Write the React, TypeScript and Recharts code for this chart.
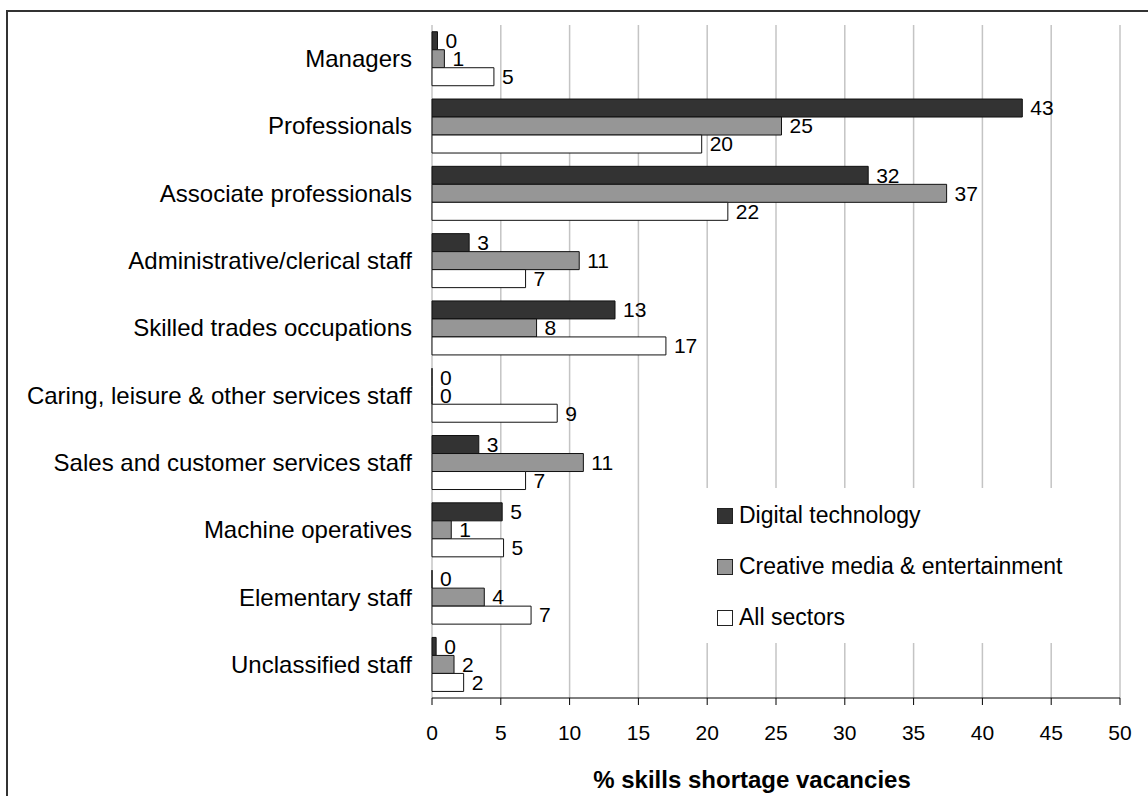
import { Bar, BarChart, CartesianGrid, LabelList, Legend, XAxis, YAxis } from "recharts";

const categories = [
  "Managers",
  "Professionals",
  "Associate professionals",
  "Administrative/clerical staff",
  "Skilled trades occupations",
  "Caring, leisure & other services staff",
  "Sales and customer services staff",
  "Machine operatives",
  "Elementary staff",
  "Unclassified staff",
];

const digitalTech = [0.4, 42.9, 31.7, 2.7, 13.3, 0, 3.4, 5.1, 0, 0.3];
const creativeMedia = [0.9, 25.4, 37.4, 10.7, 7.6, 0, 11.0, 1.4, 3.8, 1.6];
const allSectors = [4.5, 19.6, 21.5, 6.8, 17.0, 9.1, 6.8, 5.2, 7.2, 2.3];

const seriesOrder = ["digital", "creative", "all"];
const xTicks = [0, 5, 10, 15, 20, 25, 30, 35, 40, 45, 50];
const boundaryTicks = [0, 1, 2, 3, 4, 5, 6, 7, 8, 9, 10];

const data = categories.map((name, i) => ({
  name,
  digital: digitalTech[i],
  creative: creativeMedia[i],
  all: allSectors[i],
}));

const FONT = '"Liberation Sans", Arial, sans-serif';

function LegendBox(props: any) {
  const items = [...(props.payload || [])].sort(
    (a: any, b: any) => seriesOrder.indexOf(a.dataKey) - seriesOrder.indexOf(b.dataKey)
  );
  return (
    <div
      style={{
        background: "#fff",
        width: 410,
        height: 155,
        paddingTop: 2,
        boxSizing: "border-box",
        fontFamily: FONT,
        fontSize: 23,
        color: "#000",
      }}
    >
      {items.map((it: any) => (
        <div
          key={it.value}
          style={{ height: 51, display: "flex", alignItems: "center", paddingLeft: 17 }}
        >
          <span
            style={{
              width: 14,
              height: 14,
              background: it.color,
              border: "1px solid #222",
              display: "inline-block",
              marginRight: 6,
            }}
          />
          <span>{it.value}</span>
        </div>
      ))}
    </div>
  );
}

function ValueLabel(props: any) {
  const { x, y, width, height, value } = props;
  if (x == null || y == null) return null;
  return (
    <text
      x={Number(x) + Number(width || 0) + 8}
      y={Number(y) + Number(height || 0) / 2}
      dy="0.35em"
      fontFamily={FONT}
      fontSize={21}
      fill="#000"
    >
      {Math.round(Number(value))}
    </text>
  );
}

export default function App() {
  return (
    <div
      style={{
        position: "absolute",
        left: 0,
        top: 0,
        width: 1148,
        height: 796,
        overflow: "hidden",
        background: "#fff",
      }}
    >
      <div
        style={{
          position: "absolute",
          left: 6,
          top: 10,
          width: 1300,
          height: 900,
          borderLeft: "2px solid #333",
          borderTop: "2px solid #333",
        }}
      />
      <div style={{ position: "absolute", left: 0, top: 0 }}>
        <BarChart
          width={1148}
          height={796}
          data={data}
          layout="vertical"
          margin={{ top: 25, right: 28, bottom: 8, left: 8 }}
          barCategoryGap="10%"
          barGap={0}
        >
          <CartesianGrid horizontal={false} stroke="#c4c4c4" strokeWidth={1.5} />
          <XAxis
            type="number"
            domain={[0, 50]}
            ticks={xTicks}
            height={90}
            tickSize={7}
            tickMargin={20}
            stroke="#000"
            tick={{ fontSize: 21, fill: "#000", fontFamily: FONT }}
            label={{
              content: (p: any) => {
                const vb = p.viewBox || {};
                return (
                  <text
                    x={vb.x + vb.width / 2 - 24}
                    y={vb.y + 82}
                    dy="0.35em"
                    textAnchor="middle"
                    fontFamily={FONT}
                    fontSize={24}
                    fontWeight="bold"
                    fill="#000"
                  >
                    % skills shortage vacancies
                  </text>
                );
              },
            }}
          />
          <YAxis
            yAxisId={0}
            type="category"
            dataKey="name"
            width={424}
            tickLine={false}
            axisLine={false}
            tickSize={0}
            tickMargin={20}
            tick={{ fontSize: 24, fill: "#000", fontFamily: FONT }}
          />
          <YAxis
            yAxisId="bounds"
            type="number"
            domain={[0, 10]}
            ticks={boundaryTicks}
            width={0}
            tickSize={9}
            tickFormatter={() => ""}
            stroke="#000"
          />
          <Legend
            layout="vertical"
            align="center"
            verticalAlign="middle"
            content={<LegendBox />}
            wrapperStyle={{ left: 700, top: 488, width: 410, height: 155 }}
          />
          <Bar
            dataKey="digital"
            name="Digital technology"
            fill="#333333"
            stroke="#111"
            strokeWidth={1}
            minPointSize={0.01}
            isAnimationActive={false}
          >
            <LabelList dataKey="digital" content={<ValueLabel />} />
          </Bar>
          <Bar
            dataKey="creative"
            name="Creative media & entertainment"
            fill="#969696"
            stroke="#111"
            strokeWidth={1}
            minPointSize={0.01}
            isAnimationActive={false}
          >
            <LabelList dataKey="creative" content={<ValueLabel />} />
          </Bar>
          <Bar
            dataKey="all"
            name="All sectors"
            fill="#ffffff"
            stroke="#111"
            strokeWidth={1}
            minPointSize={0.01}
            isAnimationActive={false}
          >
            <LabelList dataKey="all" content={<ValueLabel />} />
          </Bar>
        </BarChart>
      </div>
    </div>
  );
}
